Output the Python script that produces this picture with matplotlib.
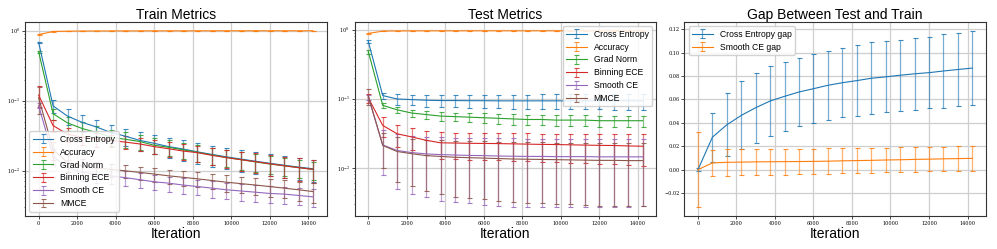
import numpy as np
import matplotlib
matplotlib.use("Agg")
import matplotlib.pyplot as plt

plt.rcParams['font.family'] = ['Liberation Sans', 'DejaVu Sans']
plt.rcParams['mathtext.fontset'] = 'cm'

# iteration 軸
iterations = [0, 750, 1500, 2250, 3000, 3750, 4500, 5250, 6000, 6750,
              7500, 8250, 9000, 9750, 10500, 11250, 12000, 12750, 13500, 14250]

metric_names = ["Cross Entropy", "Accuracy", "Grad Norm", "Binning ECE", "Smooth CE", "MMCE"]

# Train
train_ce = [0.68, 0.084, 0.060, 0.049, 0.042, 0.035, 0.031, 0.027, 0.0245, 0.022,
            0.0203, 0.0185, 0.017, 0.0157, 0.0146, 0.0136, 0.0127, 0.0119, 0.0112, 0.0106]
train_ce_std = [0.02, 0.018, 0.015, 0.013, 0.011, 0.010, 0.0088, 0.008, 0.0075, 0.007,
                0.0066, 0.006, 0.0057, 0.0053, 0.005, 0.0047, 0.0044, 0.0041, 0.0039, 0.0037]
train_acc = [0.88, 0.975, 0.985, 0.99, 0.992, 0.994, 0.995, 0.996, 0.997, 0.997,
             0.998, 0.998, 0.998, 0.999, 0.999, 0.999, 0.999, 0.999, 0.999, 0.999]
train_acc_std = [0.01, 0.004, 0.003, 0.002, 0.002, 0.002, 0.001, 0.001, 0.001, 0.001,
                 0.001, 0.001, 0.001, 0.001, 0.001, 0.001, 0.001, 0.001, 0.001, 0.001]
train_gn = [0.50, 0.065, 0.048, 0.040, 0.035, 0.030, 0.028, 0.026, 0.023, 0.0215,
            0.0198, 0.0182, 0.0167, 0.0154, 0.0143, 0.0133, 0.0124, 0.0117, 0.011, 0.0104]
train_gn_std = [0.02, 0.012, 0.011, 0.0095, 0.0085, 0.0078, 0.007, 0.0065, 0.006, 0.0056,
                0.0052, 0.0049, 0.0046, 0.0043, 0.004, 0.0038, 0.0036, 0.0034, 0.0032, 0.003]
train_bece = [0.12, 0.044, 0.033, 0.030, 0.028, 0.027, 0.0255, 0.024, 0.022, 0.0205,
              0.019, 0.018, 0.0165, 0.0153, 0.0143, 0.0134, 0.0125, 0.0117, 0.011, 0.0104]
train_bece_std = [0.04, 0.008, 0.007, 0.0065, 0.006, 0.0055, 0.0055, 0.0052, 0.005, 0.0048,
                  0.0047, 0.0046, 0.0045, 0.0044, 0.0043, 0.0042, 0.0041, 0.004, 0.0039, 0.0038]
train_sce = [0.085, 0.016, 0.011, 0.0095, 0.0089, 0.0084, 0.0079, 0.0074, 0.0069, 0.0066,
             0.0062, 0.0059, 0.0056, 0.0053, 0.0051, 0.0049, 0.0047, 0.0046, 0.0044, 0.0042]
train_sce_std = [0.006, 0.004, 0.003, 0.0025, 0.0022, 0.002, 0.0019, 0.0018, 0.0017, 0.0016,
                 0.0016, 0.0015, 0.0015, 0.0014, 0.0014, 0.0013, 0.0013, 0.0013, 0.0012, 0.0012]
train_mmce = [0.11, 0.02, 0.013, 0.0115, 0.0108, 0.0104, 0.0099, 0.0094, 0.0089, 0.0084,
              0.008, 0.0076, 0.0072, 0.0068, 0.0065, 0.0062, 0.0059, 0.0056, 0.0053, 0.005]
train_mmce_std = [0.045, 0.006, 0.0035, 0.003, 0.0025, 0.0022, 0.0021, 0.002, 0.002, 0.0019,
                  0.0019, 0.0018, 0.0018, 0.0018, 0.0017, 0.0017, 0.0017, 0.0016, 0.0016, 0.0016]

# Test
test_ce = [0.67, 0.111, 0.099, 0.097, 0.095, 0.094, 0.094, 0.0935, 0.0935, 0.093,
           0.093, 0.093, 0.093, 0.093, 0.093, 0.093, 0.093, 0.093, 0.093, 0.093]
test_ce_std = [0.03, 0.011, 0.017, 0.017, 0.018, 0.018, 0.019, 0.019, 0.020, 0.020,
               0.021, 0.021, 0.022, 0.022, 0.023, 0.023, 0.023, 0.024, 0.024, 0.024]
test_acc = [0.88, 0.95, 0.955, 0.957, 0.958, 0.959, 0.959, 0.96, 0.96, 0.96,
            0.96, 0.96, 0.96, 0.96, 0.96, 0.96, 0.96, 0.96, 0.96, 0.96]
test_acc_std = [0.01, 0.004, 0.003, 0.003, 0.003, 0.003, 0.003, 0.003, 0.003, 0.003,
                0.003, 0.003, 0.003, 0.003, 0.003, 0.003, 0.003, 0.003, 0.003, 0.003]
test_gn = [0.48, 0.080, 0.069, 0.062, 0.059, 0.056, 0.055, 0.054, 0.053, 0.052,
           0.051, 0.050, 0.050, 0.049, 0.049, 0.049, 0.048, 0.048, 0.048, 0.048]
test_gn_std = [0.03, 0.006, 0.007, 0.007, 0.008, 0.008, 0.008, 0.008, 0.009, 0.009,
               0.009, 0.009, 0.009, 0.009, 0.009, 0.009, 0.009, 0.009, 0.009, 0.009]
test_bece = [0.103, 0.041, 0.031, 0.028, 0.025, 0.023, 0.0228, 0.0226, 0.0225, 0.0224,
             0.0222, 0.022, 0.0218, 0.0217, 0.0215, 0.0213, 0.0211, 0.021, 0.0207, 0.0205]
test_bece_std = [0.015, 0.013, 0.011, 0.0097, 0.0096, 0.0095, 0.0095, 0.0095, 0.0095, 0.0095,
                 0.0095, 0.0095, 0.0095, 0.0096, 0.0096, 0.0097, 0.0097, 0.0098, 0.0098, 0.0099]
test_sce = [0.105, 0.0214, 0.0178, 0.0166, 0.0159, 0.0155, 0.0153, 0.0151, 0.015, 0.0148,
            0.0147, 0.0146, 0.0146, 0.0145, 0.0145, 0.0145, 0.0144, 0.0144, 0.0144, 0.0144]
test_sce_std = [0.008, 0.0136, 0.0128, 0.0124, 0.0121, 0.0122, 0.0121, 0.012, 0.0121, 0.012,
                0.012, 0.0119, 0.0119, 0.0118, 0.0118, 0.0118, 0.0117, 0.0117, 0.0117, 0.0116]
test_mmce = [0.11, 0.021, 0.0172, 0.016, 0.015, 0.0146, 0.0142, 0.014, 0.0138, 0.0136,
             0.0134, 0.0133, 0.0132, 0.0131, 0.013, 0.0129, 0.0128, 0.0128, 0.0127, 0.0127]
test_mmce_std = [0.03, 0.011, 0.011, 0.0105, 0.0104, 0.0104, 0.0104, 0.0104, 0.0103, 0.0103,
                 0.0102, 0.0102, 0.0101, 0.0101, 0.01, 0.01, 0.01, 0.01, 0.0099, 0.0099]

# Gap
gap_ce = [0.0, 0.0277, 0.0383, 0.0463, 0.0529, 0.0586, 0.0626, 0.0663, 0.0691, 0.072,
          0.0742, 0.076, 0.078, 0.0792, 0.0806, 0.0818, 0.0828, 0.0842, 0.0855, 0.0867]
gap_ce_std = [0.001, 0.021, 0.027, 0.029, 0.030, 0.0296, 0.0293, 0.0294, 0.0296, 0.0296,
              0.0296, 0.030, 0.0306, 0.0303, 0.0304, 0.0305, 0.0303, 0.0315, 0.0315, 0.0319]
gap_sce = [0.0, 0.0057, 0.0062, 0.0064, 0.0066, 0.0067, 0.0068, 0.0069, 0.007, 0.0072,
           0.0075, 0.0077, 0.0079, 0.0082, 0.0084, 0.0087, 0.0089, 0.0092, 0.0094, 0.0096]
gap_sce_std = [0.032, 0.0113, 0.0113, 0.0112, 0.0112, 0.0111, 0.011, 0.011, 0.011, 0.0109,
               0.0108, 0.0107, 0.0107, 0.0106, 0.0106, 0.0105, 0.0105, 0.0105, 0.0104, 0.0104]

train_means = [train_ce, train_acc, train_gn, train_bece, train_sce, train_mmce]
train_stds = [train_ce_std, train_acc_std, train_gn_std, train_bece_std, train_sce_std, train_mmce_std]
test_means = [test_ce, test_acc, test_gn, test_bece, test_sce, test_mmce]
test_stds = [test_ce_std, test_acc_std, test_gn_std, test_bece_std, test_sce_std, test_mmce_std]


def errplot(ax, y, e, label):
    c = ax.errorbar(iterations, y, yerr=e, label=label, lw=0.8,
                    elinewidth=0.9, capsize=1.8, capthick=0.8)
    for b in c[2]:
        b.set_alpha(0.6)
    for cl in c[1]:
        cl.set_alpha(0.85)
    return c


def style(ax, title):
    ax.set_title(title, fontsize=10, pad=2)
    ax.set_xlabel("Iteration", fontsize=10, labelpad=1)
    ax.grid(True, color='#cfcfcf', lw=0.9)
    ax.set_axisbelow(True)
    ax.tick_params(labelsize=3.5, length=2, width=0.5, pad=1.5, labelfontfamily='DejaVu Serif')
    ax.tick_params(which='minor', length=1, width=0.4)
    ax.set_xticks([0, 2000, 4000, 6000, 8000, 10000, 12000, 14000])
    for s in ax.spines.values():
        s.set_color('#333333')
        s.set_linewidth(0.8)


def legend(ax, loc):
    ax.legend(loc=loc, fontsize=6.2, handlelength=2.4, labelspacing=0.45,
              borderpad=0.4, framealpha=0.85)


fig, axes = plt.subplots(1, 3, figsize=(9.97, 2.49), dpi=100)
plt.subplots_adjust(left=0.025, right=0.989, bottom=0.133, top=0.912, wspace=0.0925)

ax = axes[0]
for m, s, n in zip(train_means, train_stds, metric_names):
    errplot(ax, m, s, n)
ax.set_yscale('log')
style(ax, "Train Metrics")
legend(ax, 'lower left')

ax = axes[1]
for m, s, n in zip(test_means, test_stds, metric_names):
    errplot(ax, m, s, n)
ax.set_yscale('log')
style(ax, "Test Metrics")
legend(ax, 'upper right')

ax = axes[2]
errplot(ax, gap_ce, gap_ce_std, "Cross Entropy gap")
errplot(ax, gap_sce, gap_sce_std, "Smooth CE gap")
style(ax, "Gap Between Test and Train")
ax.set_yticks([-0.02, 0.0, 0.02, 0.04, 0.06, 0.08, 0.10, 0.12])
legend(ax, 'upper left')

fig.savefig("out.png", dpi=100)
